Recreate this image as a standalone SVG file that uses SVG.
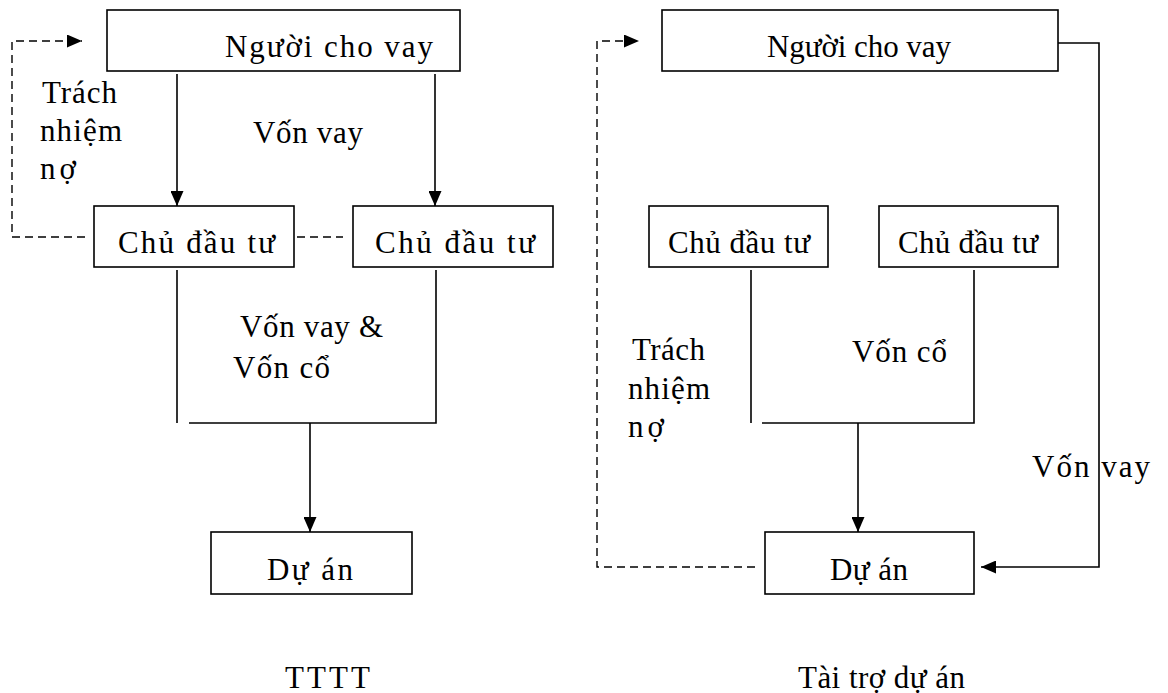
<svg xmlns="http://www.w3.org/2000/svg" width="1168" height="693" viewBox="0 0 1168 693">
<style>
text{font-family:"Liberation Serif","Times New Roman",serif;font-size:31px;fill:#000}
.box{fill:#fff;stroke:#000;stroke-width:1.6}
.ln{fill:none;stroke:#000;stroke-width:1.6}
.dash{fill:none;stroke:#000;stroke-width:1.4;stroke-dasharray:8 5}
</style>
<defs>
<marker id="ah" viewBox="0 0 15 13" refX="15" refY="6.5" markerWidth="15" markerHeight="13" markerUnits="userSpaceOnUse" orient="auto">
<path d="M0,0 L15,6.5 L0,13 Z" fill="#000"/>
</marker>
</defs>
<rect width="1168" height="693" fill="#fff"/>

<g id="connectors">
<path class="dash" d="M85,237 H12 V41 H82" marker-end="url(#ah)"/>
<path class="dash" d="M297,237 H343"/>
<path class="ln" d="M177,74 V206" marker-end="url(#ah)"/>
<path class="ln" d="M435,74 V206" marker-end="url(#ah)"/>
<path class="ln" d="M177,270 V423"/>
<path class="ln" d="M189,423 H436 V270"/>
<path class="ln" d="M310,423 V532" marker-end="url(#ah)"/>
<path class="dash" d="M755,567 H597 V41 H639" marker-end="url(#ah)"/>
<path class="ln" d="M1058,43 H1099 V567 H981" marker-end="url(#ah)"/>
<path class="ln" d="M751,270 V423"/>
<path class="ln" d="M762,423 H974 V270"/>
<path class="ln" d="M858,423 V532" marker-end="url(#ah)"/>
</g>

<g id="lender-left"><rect class="box" x="107" y="10" width="353" height="61"/><text x="225" y="57" textLength="208" lengthAdjust="spacing">Người cho vay</text></g>
<g id="investor-left-1"><rect class="box" x="94" y="206" width="200" height="61"/><text x="118" y="253" textLength="157" lengthAdjust="spacing">Chủ đầu tư</text></g>
<g id="investor-left-2"><rect class="box" x="353" y="206" width="200" height="61"/><text x="375" y="253" textLength="160" lengthAdjust="spacing">Chủ đầu tư</text></g>
<g id="project-left"><rect class="box" x="211" y="532" width="201" height="62"/><text x="267" y="580" textLength="86" lengthAdjust="spacing">Dự án</text></g>

<g id="lender-right"><rect class="box" x="662" y="10" width="396" height="61"/><text x="767" y="57" textLength="184" lengthAdjust="spacing">Người cho vay</text></g>
<g id="investor-right-1"><rect class="box" x="649" y="206" width="179" height="61"/><text x="668" y="253" textLength="142" lengthAdjust="spacing">Chủ đầu tư</text></g>
<g id="investor-right-2"><rect class="box" x="879" y="206" width="179" height="61"/><text x="898" y="253" textLength="140" lengthAdjust="spacing">Chủ đầu tư</text></g>
<g id="project-right"><rect class="box" x="765" y="532" width="209" height="62"/><text x="830" y="580" textLength="78" lengthAdjust="spacing">Dự án</text></g>

<g id="labels">
<text x="42" y="103" textLength="75" lengthAdjust="spacing">Trách</text>
<text x="40" y="141" textLength="82" lengthAdjust="spacing">nhiệm</text>
<text x="40" y="179" textLength="36" lengthAdjust="spacing">nợ</text>
<text x="253" y="143" textLength="110" lengthAdjust="spacing">Vốn vay</text>
<text x="240" y="337" textLength="143" lengthAdjust="spacing">Vốn vay &amp;</text>
<text x="233" y="378" textLength="97" lengthAdjust="spacing">Vốn cổ</text>
<text x="632" y="360" textLength="73" lengthAdjust="spacing">Trách</text>
<text x="628" y="399" textLength="82" lengthAdjust="spacing">nhiệm</text>
<text x="628" y="437" textLength="36" lengthAdjust="spacing">nợ</text>
<text x="852" y="362" textLength="95" lengthAdjust="spacing">Vốn cổ</text>
<text x="1032" y="477" textLength="118" lengthAdjust="spacing">Vốn vay</text>
<text x="285" y="688" textLength="85" lengthAdjust="spacing">TTTT</text>
<text x="798" y="688" textLength="167" lengthAdjust="spacing">Tài trợ dự án</text>
</g>
</svg>
